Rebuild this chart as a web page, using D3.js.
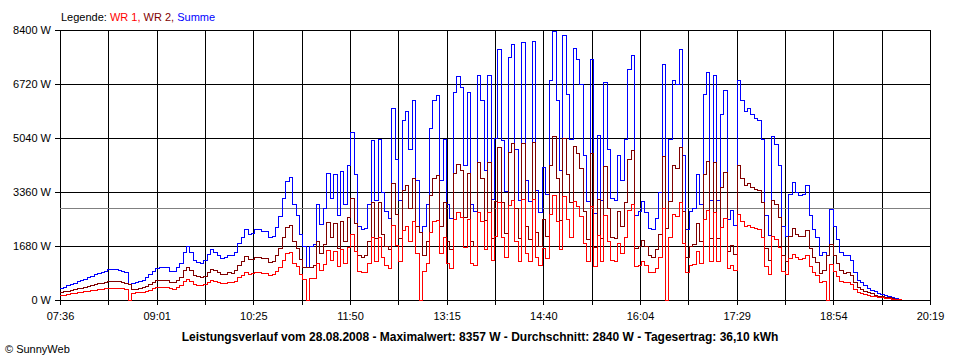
<!DOCTYPE html>
<html><head><meta charset="utf-8">
<script src="https://cdn.jsdelivr.net/npm/d3@7"></script>
<style>
html,body{margin:0;padding:0;background:#fff;}
svg{display:block;font-family:"Liberation Sans",Arial,sans-serif;}
</style></head><body>
<svg id="chart" width="960" height="360"></svg>
<script>
// ---- data ----
const xTickLabels = ["07:36","09:01","10:25","11:50","13:15","14:40","16:04","17:29","18:54","20:19"];
const yTickValues = [0,1680,3360,5040,6720,8400];
const startMinute = 7*60+36;   // 07:36
const endMinute = 20*60+19;    // 20:19
const intervalMin = 3;         // one value every 3 minutes from 07:36
const average = 2840;
const titleText = "Leistungsverlauf vom 28.08.2008 - Maximalwert: 8357 W - Durchschnitt: 2840 W - Tagesertrag: 36,10 kWh";

const wr1 = [
140,150,170,190,200,220,240,250,270,290,
300,320,340,350,370,370,370,360,350,340,
0,200,220,220,240,270,310,350,390,400,
400,390,350,340,390,440,580,640,580,480,
460,450,480,560,610,580,550,500,510,550,
530,580,690,760,850,800,810,850,850,830,
830,750,780,890,1020,1240,1440,1480,1150,1030,
800,640,0,660,670,1150,920,1120,1540,1240,
1520,1030,1560,1150,1640,2030,1520,900,850,870,
1150,1930,1210,1940,1310,1070,990,2330,1700,1210,
2170,2280,1820,2430,1450,0,900,1150,2090,2430,
2480,1450,1940,1150,990,2520,2710,2570,1640,2520,
1150,1070,2730,2430,1580,2730,1220,1970,3030,1930,
1320,2940,3100,1820,1210,3120,1450,1200,3130,1330,
1060,1600,1280,2670,3260,2430,1580,3210,2490,1940,
3060,2910,2610,1760,1200,2910,1050,2000,1210,2640,
1820,1240,1210,1760,1450,1940,2790,2970,1030,1070,
1190,1060,870,850,990,1310,2850,0,1950,2670,
2610,3040,1760,850,1070,1120,1520,1150,2490,2770,
1210,2730,1210,2250,2550,970,1080,910,2670,2430,
2280,2330,2250,2210,2180,1940,1030,790,1990,1890,
1640,900,780,1280,1430,1310,1260,1280,1380,1030,
850,750,530,580,0,1110,900,730,580,530,
550,480,340,240,210,170,140,120,100,80,
70,60,40,30,20,10,0
];
const wr2 = [
220,250,270,290,320,350,370,400,430,450,
480,500,520,550,580,580,570,570,550,520,
470,320,340,350,380,430,490,550,600,620,
620,610,550,540,610,700,910,1010,910,760,
720,700,740,870,950,910,850,780,800,850,
840,910,1080,1200,1340,1250,1270,1330,1330,1300,
1290,1180,1210,1380,1590,1930,2260,2320,1810,1610,
1250,1010,1000,1020,1060,1810,1440,1740,2410,1930,
2370,1610,2450,1810,2560,3170,2370,1400,1330,1370,
1810,3020,1900,3040,2050,1670,1560,3640,2660,1900,
3400,3570,2850,3790,2280,2100,1400,1810,3260,3790,
3870,2280,3040,1810,1560,3950,4230,4030,2560,3950,
1810,1670,4270,3790,2460,4270,1920,3070,4750,3020,
2070,4590,4860,2850,1900,4880,2280,1880,4900,2090,
1650,2510,1990,4170,5097,3790,2460,5030,3890,3040,
4780,4560,4080,2750,1880,4560,1630,3130,1900,4140,
2850,1930,1900,2750,2280,3040,4370,4650,1610,1670,
1860,1650,1370,1330,1560,2050,4470,2240,3050,4170,
4090,4750,2750,1330,1670,1740,2370,1810,3890,4320,
1900,4270,1900,3510,3980,1520,1690,1420,4170,3790,
3570,3640,3510,3450,3420,3040,1610,1230,3110,2960,
2560,1400,1210,1990,2240,2050,1980,1990,2170,1610,
1330,1180,840,910,1400,1720,1400,1140,910,840,
850,760,530,380,320,270,230,190,150,120,
100,80,70,50,30,20,10
];
const summe = [
360,400,440,480,520,570,610,650,700,740,
780,820,860,900,950,950,940,930,900,860,
470,520,560,570,620,700,800,900,990,1020,
1020,1000,900,880,1000,1140,1490,1650,1490,1240,
1180,1150,1220,1430,1560,1490,1400,1280,1310,1400,
1370,1490,1770,1960,2190,2050,2080,2180,2180,2130,
2120,1930,1990,2270,2610,3170,3700,3800,2960,2640,
2050,1650,1000,1680,1730,2960,2360,2860,3950,3170,
3890,2640,4010,2960,4200,5200,3890,2300,2180,2240,
2960,4950,3110,4980,3360,2740,2550,5970,4360,3110,
5570,5850,4670,6220,3730,2100,2300,2960,5350,6220,
6350,3730,4980,2960,2550,6470,6940,6600,4200,6470,
2960,2740,7000,6220,4040,7000,3140,5040,7780,4950,
3390,7530,7960,4670,3110,8000,3730,3080,8030,3420,
2710,4110,3270,6840,8357,6220,4040,8240,6380,4980,
7840,7470,6690,4510,3080,7470,2680,5130,3110,6780,
4670,3170,3110,4510,3730,4980,7160,7620,2640,2740,
3050,2710,2240,2180,2550,3360,7320,2240,5000,6840,
6700,7790,4510,2180,2740,2860,3890,2960,6380,7090,
3110,7000,3110,5760,6530,2490,2770,2330,6840,6220,
5850,5970,5760,5660,5600,4980,2640,2020,5100,4850,
4200,2300,1990,3270,3670,3360,3240,3270,3550,2640,
2180,1930,1370,1490,1400,2830,2300,1870,1490,1370,
1400,1240,870,620,530,440,370,310,250,200,
170,140,110,80,50,30,10
];

// ---- chart ----
(function () {
const svg = d3.select("#chart");
svg.append("rect").attr("width",960).attr("height",360).attr("fill","#fff");

const pLeft = 60, pRight = 930, pTop = 30, pBottom = 300;
const totalMin = endMinute - startMinute;
const x = d3.scaleLinear().domain([0, totalMin]).range([pLeft, pRight]);
const y = d3.scaleLinear().domain([0, 8400]).range([pBottom, pTop]);

const nGrid = (xTickLabels.length - 1) * 2;
const xGridVals = d3.range(nGrid + 1).map(k => k * totalMin / nGrid);

// y axis + horizontal grid
const gy = svg.append("g").attr("transform", `translate(${pLeft-5},0)`)
  .call(d3.axisLeft(y).tickValues(yTickValues).tickSize(-(pRight-pLeft+5)).tickPadding(4)
        .tickFormat(d => d + " W"));
gy.select(".domain").remove();
gy.selectAll("line").attr("stroke","#000").attr("shape-rendering","crispEdges");
gy.selectAll("text").attr("font-size","11px").attr("fill","#000");

// x axis + vertical grid
const gx = svg.append("g").attr("transform", `translate(0,${pBottom+5})`)
  .call(d3.axisBottom(x).tickValues(xGridVals).tickSize(-(pBottom-pTop+5)).tickPadding(7)
        .tickFormat((d,i) => i % 2 === 0 ? xTickLabels[i/2] : ""));
gx.select(".domain").remove();
gx.selectAll("line").attr("stroke","#000").attr("shape-rendering","crispEdges");
gx.selectAll("text").attr("font-size","11px").attr("fill","#000");

// average line
svg.append("line").attr("x1", pLeft).attr("x2", pRight)
  .attr("y1", y(average)).attr("y2", y(average))
  .attr("stroke","#808080").attr("stroke-width",1).attr("shape-rendering","crispEdges");

// series
const lineGen = d3.line().x((d,i) => x(i*intervalMin)).y(d => y(d)).curve(d3.curveStepAfter);
const series = [
  {data: summe, color: "#0000FF"},
  {data: wr2, color: "#800000"},
  {data: wr1, color: "#FF0000"}
];
series.forEach(s => {
  svg.append("path").attr("d", lineGen(s.data)).attr("fill","none")
    .attr("stroke", s.color).attr("stroke-width",1).attr("shape-rendering","crispEdges");
});

// legend
const leg = svg.append("text").attr("x", 61).attr("y", 21).attr("font-size","11px");
leg.append("tspan").attr("fill","#000").text("Legende: ");
leg.append("tspan").attr("fill","#FF0000").text("WR 1, ");
leg.append("tspan").attr("fill","#800000").text("WR 2, ");
leg.append("tspan").attr("fill","#0000FF").text("Summe");

// title
svg.append("text").attr("x", 480).attr("y", 341).attr("text-anchor","middle")
  .attr("font-size","12px").attr("font-weight","bold").attr("fill","#000").text(titleText);

// copyright
svg.append("text").attr("x", 5).attr("y", 353).attr("font-size","11px").attr("fill","#000").text("© SunnyWeb");
})();
</script>
</body></html>
